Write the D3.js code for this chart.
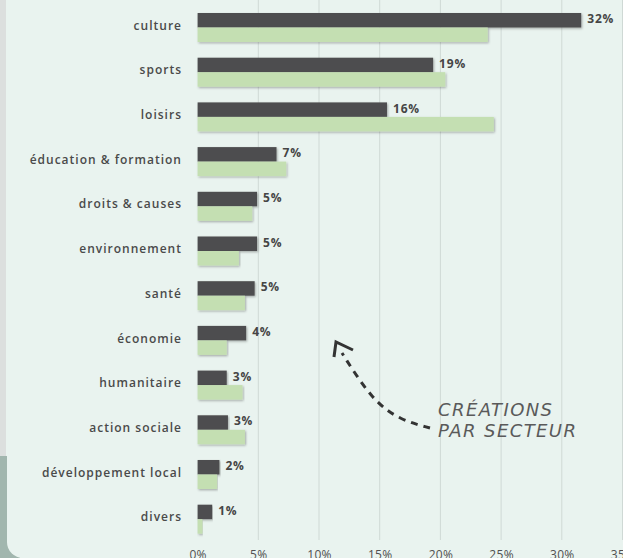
<!DOCTYPE html>
<html lang="fr">
<head>
    <meta charset="UTF-8">
    <title>Créations par secteur</title>
    <script src="https://d3js.org/d3.v7.min.js"></script>
    <style>
        body { margin: 0; background: #e9f3ef; overflow: hidden; }
        text { font-family: "Open Sans", sans-serif; }
    </style>
</head>
<body>

<div id="chart"></div>

<script>
    // Sectors, top to bottom
    const categories = [
        "culture", "sports", "loisirs", "éducation & formation", "droits & causes",
        "environnement", "santé", "économie", "humanitaire", "action sociale",
        "développement local", "divers"
    ];

    // Dark bars: share of new associations (%)
    const creations = [31.6, 19.4, 15.6, 6.5, 4.9, 4.9, 4.7, 4.0, 2.4, 2.5, 1.8, 1.2];
    // Labels printed next to the dark bars
    const creationLabels = ["32%", "19%", "16%", "7%", "5%", "5%", "5%", "4%", "3%", "3%", "2%", "1%"];
    // Light green bars: comparison series (%)
    const comparison = [23.9, 20.4, 24.4, 7.3, 4.5, 3.4, 3.9, 2.4, 3.7, 3.9, 1.6, 0.4];

    const ticks = [0, 5, 10, 15, 20, 25, 30, 35];

    const width = 623;
    const height = 558;

    const svg = d3.select("#chart")
        .append("svg")
        .attr("width", width)
        .attr("height", height);

    // soft shadow under the bars
    const defs = svg.append("defs");
    defs.append("filter")
        .attr("id", "shadow")
        .attr("x", "-5%").attr("y", "-20%")
        .attr("width", "110%").attr("height", "150%")
        .append("feDropShadow")
        .attr("dx", 1).attr("dy", 1.2)
        .attr("stdDeviation", 0.8)
        .attr("flood-color", "#000")
        .attr("flood-opacity", 0.3);

    // panel edges on the left
    svg.append("rect")
        .attr("x", 0).attr("y", 0)
        .attr("width", 6).attr("height", height)
        .attr("fill", "#dcdfde");
    svg.append("rect")
        .attr("x", 0).attr("y", 456)
        .attr("width", 20).attr("height", height - 456)
        .attr("fill", "#a1b6ae");
    svg.append("rect")
        .attr("x", 7).attr("y", -30)
        .attr("width", width + 20).attr("height", height + 30)
        .attr("rx", 16)
        .attr("fill", "#e9f3ef");

    // scales
    const x = d3.scaleLinear()
        .domain([0, 35])
        .range([197.6, 622.5]);

    const y = d3.scaleBand()
        .domain(categories)
        .range([13, 533.7])
        .paddingInner(0.351)
        .paddingOuter(0);

    const series = ["creations", "comparison"];
    const ySub = d3.scaleBand()
        .domain(series)
        .range([0, y.bandwidth()]);

    const color = d3.scaleOrdinal()
        .domain(series)
        .range(["#4e4e50", "#c4dfb2"]);

    // vertical grid lines
    svg.append("g")
        .selectAll("line")
        .data(ticks.filter(d => d > 0))
        .enter()
        .append("line")
        .attr("x1", d => x(d))
        .attr("x2", d => x(d))
        .attr("y1", 0)
        .attr("y2", 540)
        .attr("stroke", "#cfd9d5")
        .attr("stroke-width", 1);

    // x axis labels
    const xAxis = d3.axisBottom(x)
        .tickValues(ticks)
        .tickFormat(d => d + "%")
        .tickSize(0)
        .tickPadding(0);

    const axisG = svg.append("g")
        .attr("transform", "translate(0, 550)")
        .call(xAxis);
    axisG.select(".domain").remove();
    axisG.selectAll("text")
        .attr("dy", "0.71em")
        .style("font-size", "12px")
        .style("letter-spacing", "0.3px")
        .attr("fill", "#505050");

    // rows
    const rows = categories.map((c, i) => ({
        category: c,
        values: [
            { key: "creations", value: creations[i] },
            { key: "comparison", value: comparison[i] }
        ],
        label: creationLabels[i]
    }));

    const row = svg.append("g")
        .selectAll("g")
        .data(rows)
        .enter()
        .append("g")
        .attr("transform", d => `translate(0, ${y(d.category)})`);

    row.selectAll("rect")
        .data(d => d.values)
        .enter()
        .append("rect")
        .attr("x", x(0))
        .attr("y", d => ySub(d.key))
        .attr("width", d => x(d.value) - x(0))
        .attr("height", ySub.bandwidth())
        .attr("fill", d => color(d.key))
        .attr("filter", "url(#shadow)");

    // category labels
    row.append("text")
        .attr("x", 182)
        .attr("y", ySub.bandwidth() - 2)
        .attr("dy", "0.35em")
        .attr("text-anchor", "end")
        .style("font-size", "12px")
        .style("font-weight", "600")
        .style("letter-spacing", "1px")
        .attr("fill", "#4a4a4a")
        .text(d => d.category);

    // value labels on the dark bars
    row.append("text")
        .attr("x", d => x(d.values[0].value) + 6)
        .attr("y", 6)
        .attr("dy", "0.35em")
        .style("font-size", "12px")
        .style("font-weight", "bold")
        .style("letter-spacing", "0.8px")
        .attr("fill", "#454545")
        .text(d => d.label);

    // annotation arrow
    const arrowPts = [[430, 428], [400, 420], [372, 400], [342, 353]];
    svg.append("path")
        .attr("d", d3.line().curve(d3.curveBasis)(arrowPts))
        .attr("fill", "none")
        .attr("stroke", "#333")
        .attr("stroke-width", 3)
        .attr("stroke-dasharray", "7,6");
    svg.append("path")
        .attr("d", d3.line()([[334, 357], [336, 342], [353, 350]]))
        .attr("fill", "none")
        .attr("stroke", "#333")
        .attr("stroke-width", 3)
        .attr("stroke-linejoin", "miter");

    const note = svg.append("text")
        .attr("x", 438)
        .attr("y", 416)
        .style("font-family", "'DejaVu Sans', sans-serif")
        .style("font-size", "18px")
        .style("font-style", "italic")
        .style("letter-spacing", "1.4px")
        .attr("fill", "#5a5a5a");
    note.append("tspan").attr("x", 438).text("CRÉATIONS");
    note.append("tspan").attr("x", 438).attr("dy", 21).text("PAR SECTEUR");

</script>

</body>
</html>
